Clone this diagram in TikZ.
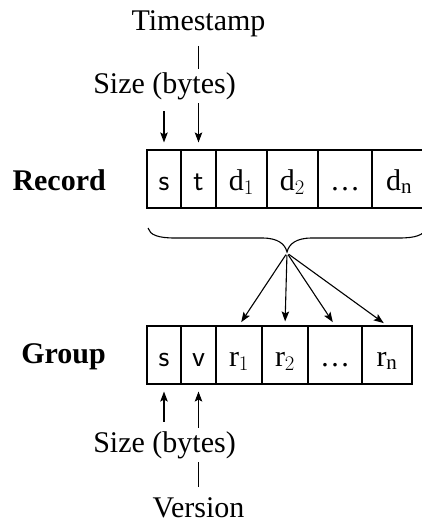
\documentclass[tikz,border=0pt]{standalone}
\usepackage{fontspec}
\setmainfont{Liberation Serif}
\usetikzlibrary{arrows.meta}
\begin{document}
\begin{tikzpicture}[x=1pt,y=-1pt,
  lbl/.style={font=\fontsize{30}{36}\selectfont},
  cell/.style={draw,line width=1.1pt,minimum height=58pt,inner sep=0pt,
    text height=22pt,text depth=0pt,font=\fontsize{30}{36}\selectfont},
  arr/.style={line width=1.1pt,-{Stealth[length=10pt,width=7.5pt,inset=2pt]}},
  conn/.style={line width=1.1pt}]
\useasboundingbox (0,0) rectangle (421,522);

% record cells
\node[cell,minimum width=34pt] (rs) at (164,179) {\textsf{s}};
\node[cell,minimum width=35pt] (rt) at (198.5,179) {\textsf{t}};
\node[cell,minimum width=51pt] (rd1) at (241.5,179) {$\mathrm{d}_1$};
\node[cell,minimum width=51pt] (rd2) at (292.5,179) {$\mathrm{d}_2$};
\node[cell,minimum width=54pt] (rdots) at (345,179) {\dots};
\node[cell,minimum width=54pt] (rdn) at (399,179) {$\mathrm{d}_\mathrm{n}$};

% group cells
\node[cell,minimum width=34pt] (gs) at (164,355) {\textsf{s}};
\node[cell,minimum width=35pt] (gv) at (198.5,355) {\textsf{v}};
\node[cell,minimum width=46pt] (g1) at (239,355) {$\mathrm{r}_1$};
\node[cell,minimum width=46pt] (g2) at (285,355) {$\mathrm{r}_2$};
\node[cell,minimum width=54pt] (gdots) at (335,355) {\dots};
\node[cell,minimum width=50pt] (gn) at (387,355) {$\mathrm{r}_\mathrm{n}$};

% row labels
\node[lbl,anchor=base east,inner sep=0pt] (rec) at (106,190) {\textbf{Record}};
\node[lbl,anchor=base east,inner sep=0pt] (grp) at (106,363) {\textbf{Group}};

% outer labels and their long connectors (drawn before the covering labels)
\node[lbl,anchor=base] (ts) at (198.5,30) {Timestamp};
\node[lbl,anchor=base] (ver) at (198.5,517) {Version};
\draw[arr,shorten <=6pt,shorten >=7pt] (ts.south -| rt.north) -- (rt.north);
\draw[arr,shorten <=7pt,shorten >=7pt] (ver.north -| gv.south) -- (gv.south);

% size labels, covering the long connectors
\node[lbl,anchor=base,fill=white] (sz1) at (164.5,93) {Size (bytes)};
\node[lbl,anchor=base,fill=white] (sz2) at (164.5,452) {Size (bytes)};

\draw[arr,shorten <=8pt,shorten >=7pt] (sz1.south -| rs.north) -- (rs.north);
\draw[arr,shorten <=6pt,shorten >=7pt] (sz2.north -| gs.south) -- (gs.south);

% brace
\draw[conn] (148,228) .. controls (150,235) and (158,238) .. (175,238)
  -- (262,238) .. controls (278,238) and (285,244) .. (287,252)
  .. controls (289,244) and (296,238) .. (312,238)
  -- (399,238) .. controls (416,238) and (424,235) .. (426,228);
\coordinate (tip) at (287,253);
\foreach \c in {g1,g2,gdots,gn}
  \draw[arr,shorten <=2pt,shorten >=4pt] (tip) -- (\c.north);
\end{tikzpicture}
\end{document}
